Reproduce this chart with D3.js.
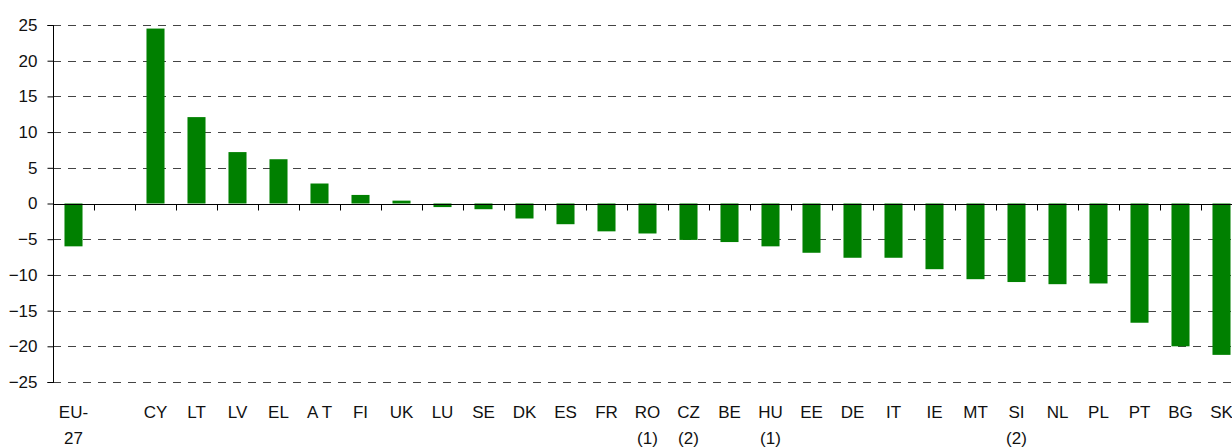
<!DOCTYPE html>
<html>
<head>
<meta charset="utf-8">
<script src="https://cdn.jsdelivr.net/npm/d3@7"></script>
<style>
  body { margin: 0; background: #fff; }
  svg { display: block; font-family: "Liberation Sans", Arial, sans-serif; }
</style>
</head>
<body>
<svg width="1232" height="448"></svg>
<script>
// categories (first line / second line of label) and values
var countries = ["EU-27", "", "CY", "LT", "LV", "EL", "AT", "FI", "UK", "LU", "SE", "DK", "ES", "FR",
                 "RO", "CZ", "BE", "HU", "EE", "DE", "IT", "IE", "MT", "SI", "NL", "PL", "PT", "BG", "SK"];
var labelTop = ["EU-", "", "CY", "LT", "LV", "EL", "A T", "FI", "UK", "LU", "SE", "DK", "ES", "FR",
                "RO", "CZ", "BE", "HU", "EE", "DE", "IT", "IE", "MT", "SI", "NL", "PL", "PT", "BG", "SK"];
var labelBottom = ["27", "", "", "", "", "", "", "", "", "", "", "", "", "",
                   "(1)", "(2)", "", "(1)", "", "", "", "", "", "(2)", "", "", "", "", ""];
var values = [-6.0, null, 24.5, 12.1, 7.2, 6.2, 2.8, 1.2, 0.4, -0.5, -0.8, -2.1, -2.9, -3.9,
              -4.2, -5.1, -5.4, -6.0, -6.9, -7.6, -7.6, -9.2, -10.6, -11.0, -11.3, -11.2, -16.7, -20.0, -21.2];
var yTicks = [25, 20, 15, 10, 5, 0, -5, -10, -15, -20, -25];

var svg = d3.select("svg");
var plotLeft = 53, plotTop = 25, plotBottom = 382;
var band = 41;

var data = countries.map(function(c, i){
    return {key: i, name: c, top: labelTop[i], bottom: labelBottom[i], value: values[i]};
});

var x = d3.scaleBand().domain(data.map(function(d){ return d.key; }))
    .range([plotLeft, plotLeft + band * data.length]).paddingInner(0.56).paddingOuter(0.28);
var y = d3.scaleLinear().domain([-25, 25]).range([plotBottom, plotTop]);

// dashed grid
svg.append("g").selectAll("line")
    .data(yTicks.filter(function(t){ return t !== 0; }))
    .enter().append("line")
    .attr("x1", plotLeft).attr("x2", 1232)
    .attr("y1", function(d){ return Math.round(y(d)) + 0.5; })
    .attr("y2", function(d){ return Math.round(y(d)) + 0.5; })
    .attr("stroke", "#444")
    .attr("stroke-dasharray", "8,7");

// bars
svg.append("g").selectAll("rect")
    .data(data.filter(function(d){ return d.value !== null; }))
    .enter().append("rect")
    .attr("x", function(d){ return x(d.key); })
    .attr("width", x.bandwidth())
    .attr("y", function(d){ return y(Math.max(0, d.value)); })
    .attr("height", function(d){ return Math.abs(y(d.value) - y(0)); })
    .attr("fill", "#008000");

// y axis
var yAxis = svg.append("g")
    .attr("transform", "translate(" + (plotLeft + 0.5) + ",0)")
    .call(d3.axisLeft(y).tickValues(yTicks).tickSize(6).tickPadding(10).tickFormat(d3.format("d")));
yAxis.select(".domain").attr("stroke", "#000").attr("d", "M-6," + (plotTop + 0.5) + "H0V" + (plotBottom + 0.5) + "H-6");
yAxis.selectAll(".tick line").attr("stroke", "#000");
yAxis.selectAll(".tick text").attr("font-size", "17px").attr("fill", "#111")
    .attr("font-family", "'Liberation Sans', Arial, sans-serif");

// zero line with band ticks
var zeroY = Math.round(y(0)) + 0.5;
svg.append("line").attr("x1", plotLeft).attr("x2", 1232)
    .attr("y1", zeroY).attr("y2", zeroY).attr("stroke", "#000").attr("stroke-width", 1.2);
var boundaries = d3.range(data.length + 1).map(function(i){ return plotLeft + i * band; });
svg.append("g").selectAll("line")
    .data(boundaries)
    .enter().append("line")
    .attr("x1", function(d){ return Math.round(d) + 0.5; })
    .attr("x2", function(d){ return Math.round(d) + 0.5; })
    .attr("y1", zeroY).attr("y2", zeroY + 6)
    .attr("stroke", "#000");

// category labels
var lab = svg.append("g").selectAll("g")
    .data(data)
    .enter().append("g")
    .attr("transform", function(d){ return "translate(" + (x(d.key) + x.bandwidth() / 2) + ",0)"; });
lab.append("text").attr("y", 418).attr("text-anchor", "middle")
    .attr("font-size", "17px").attr("fill", "#111")
    .text(function(d){ return d.top; });
lab.append("text").attr("y", 444).attr("text-anchor", "middle")
    .attr("font-size", "17px").attr("fill", "#111")
    .text(function(d){ return d.bottom; });
</script>
</body>
</html>
